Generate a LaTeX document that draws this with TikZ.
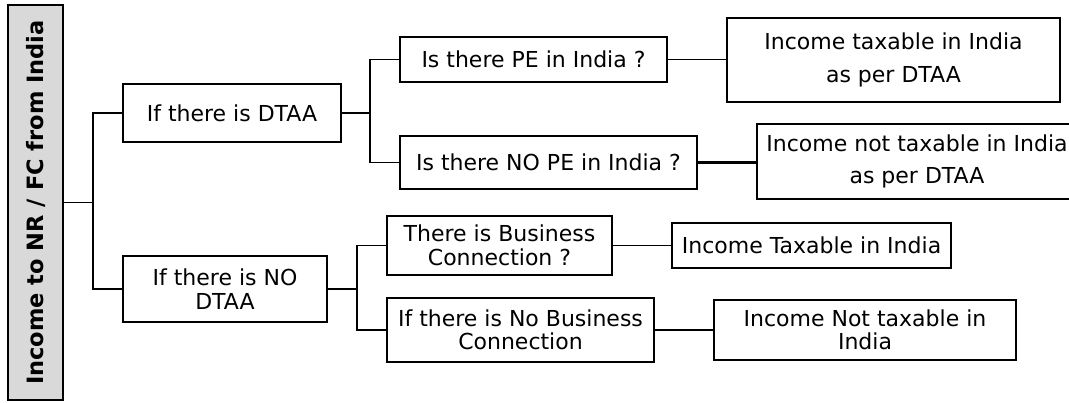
\documentclass[tikz,border=0pt]{standalone}
\usepackage{fontspec}
\setmainfont{DejaVu Sans}
\usetikzlibrary{positioning}
\definecolor{rootgray}{HTML}{D9D9D9}
\tikzset{
  box/.style 2 args={draw=black, line width=1.6pt, fill=white, inner sep=0pt,
    align=center, minimum width=#1, minimum height=#2},
  link/.style={line width=1.6pt},
  thicklink/.style={line width=2.4pt}
}

\begin{document}
\begin{tikzpicture}[x=1pt, y=-1pt, font=\fontsize{22}{23.5}\selectfont]

\useasboundingbox (0,0) rectangle (1069,403);

%% root
\node[box={395pt}{55pt}, fill=rootgray, rotate=90, font=\fontsize{22.5}{24}\selectfont\bfseries]
  (Root) at (35.5,202.5) {Income to NR / FC from India};
\coordinate (J0) at (93,202.5);

%% stage 1
\node[box={218pt}{58pt}] (DTAA) at (232,113) {If there is DTAA};
\node[box={204pt}{66pt}] (NoDTAA) at (225,289) {If there is NO\\DTAA};

\draw[link] (Root.south) -- (J0);
\draw[link] (J0) |- (DTAA.west);
\draw[link] (J0) |- (NoDTAA.west);

%% stage 2
\coordinate (J1) at (370,113);
\coordinate (J2) at (357,289);

\node[box={267pt}{45pt}] (PE) at (533.5,59.5) {Is there PE in India ?};
\node[box={297pt}{53pt}] (NoPE) at (548.5,162.5) {Is there NO PE in India ?};
\node[box={225pt}{59pt}] (BC) at (499.5,245.5) {There is Business\\Connection ?};
\node[box={267pt}{64pt}] (NoBC) at (520.5,330) {If there is No Business\\Connection};

\draw[link] (DTAA.east) -- (J1);
\draw[link] (J1) |- (PE.west);
\draw[link] (J1) |- (NoPE.west);

\draw[link] (NoDTAA.east) -- (J2);
\draw[link] (J2) |- (BC.west);
\draw[link] (J2) |- (NoBC.west);

%% results
\node[box={333pt}{84pt}] (Res1) at (893.5,60) {Income taxable in India\\[9pt]as per DTAA};
\node[box={320pt}{75pt}] (Res2) at (917,161.5) {Income not taxable in India\\[9pt]as per DTAA};
\node[box={279pt}{45pt}] (Res3) at (811.5,245.5) {Income Taxable in India};
\node[box={302pt}{60pt}] (Res4) at (865,330) {Income Not taxable in\\India};

\draw[link] (PE.east) -- (Res1.west |- PE.east);
\draw[thicklink] (NoPE.east) -- (Res2.west |- NoPE.east);
\draw[link] (BC.east) -- (Res3.west |- BC.east);
\draw[link] (NoBC.east) -- (Res4.west);

\end{tikzpicture}
\end{document}
